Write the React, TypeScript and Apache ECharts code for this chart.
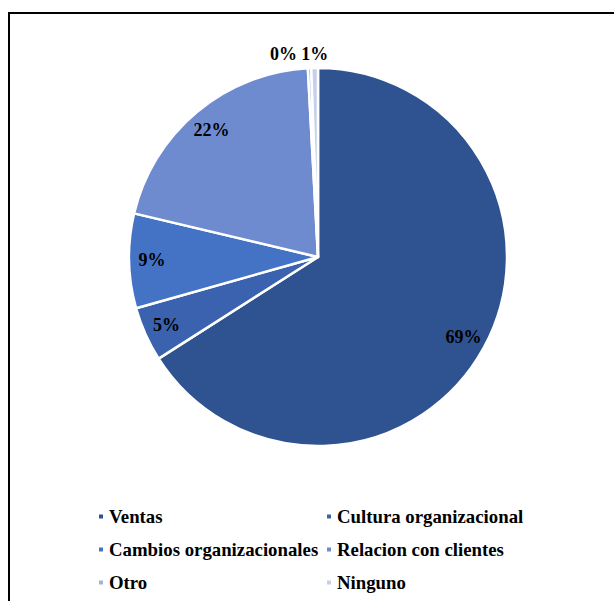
import React, { useEffect, useRef } from "react";
import * as echarts from "echarts";

const categories = [
  "Ventas",
  "Cultura organizacional",
  "Cambios organizacionales",
  "Relacion con clientes",
  "Otro",
  "Ninguno",
];
const values = [69.4, 4.9, 8.5, 21.5, 0.3, 0.6];
const colors = ["#2F5291", "#3A62AE", "#4472C4", "#6E8BCF", "#A3B2DD", "#C6D0EC"];
const leftLegend = ["Ventas", "Cambios organizacionales", "Otro"];
const rightLegend = ["Cultura organizacional", "Relacion con clientes", "Ninguno"];
const smallSlices = ["Otro", "Ninguno"];

const FONT = "'Liberation Serif', 'Times New Roman', serif";

export default function App() {
  const ref = useRef<HTMLDivElement>(null);
  useEffect(() => {
    document.body.style.margin = "0";
    if (!ref.current) return;
    const chart = echarts.init(ref.current, null, { renderer: "svg" });
    const fmt = (p: any) => Math.round(p.value) + "%";
    const mainData = categories.map((name, i) => {
      const small = smallSlices.includes(name);
      return {
        name,
        value: values[i],
        itemStyle: { color: colors[i] },
        label: { show: small },
      };
    });
    const ringData = categories.map((name, i) => ({
      name,
      value: values[i],
      label: { show: !smallSlices.includes(name) },
    }));
    const legendBase = {
      orient: "vertical" as const,
      itemWidth: 6,
      itemHeight: 6,
      itemGap: 12,
      padding: 0,
      height: 120,
      icon: "rect",
      selectedMode: false,
      textStyle: {
        fontFamily: FONT,
        fontWeight: "bold" as const,
        fontSize: 18.8,
        color: "#000",
        lineHeight: 21,
      },
    };
    chart.setOption({
      animation: false,
      backgroundColor: "#fff",
      graphic: [
        {
          type: "rect",
          shape: { x: 9, y: 13, width: 700, height: 700 },
          style: { fill: "none", stroke: "#000", lineWidth: 2 },
          silent: true,
        },
      ],
      legend: [
        { ...legendBase, data: leftLegend, left: 97, top: 506 },
        { ...legendBase, data: rightLegend, left: 325, top: 506 },
      ],
      series: [
        {
          type: "pie",
          center: [318, 257],
          radius: [0, 189],
          startAngle: 90,
          clockwise: true,
          avoidLabelOverlap: false,
          data: mainData,
          itemStyle: { borderColor: "#fff", borderWidth: 2.5 },
          label: {
            position: "outside",
            formatter: fmt,
            fontFamily: FONT,
            fontWeight: "bold",
            fontSize: 18,
            color: "#000",
          },
          labelLine: { show: false, length: 14, length2: 0 },
          labelLayout: (p: any) => {
            if (p.dataIndex === 4) return { dx: -7, align: "right" };
            if (p.dataIndex === 5) return { dx: -8, align: "left" };
            return {};
          },
          emphasis: { disabled: true },
        },
        {
          type: "pie",
          center: [318, 257],
          radius: [137, 189],
          startAngle: 90,
          clockwise: true,
          silent: true,
          legendHoverLink: false,
          avoidLabelOverlap: false,
          data: ringData,
          itemStyle: { color: "rgba(0,0,0,0)", borderWidth: 0 },
          label: {
            position: "inside",
            formatter: fmt,
            fontFamily: FONT,
            fontWeight: "bold",
            fontSize: 18,
            color: "#000",
          },
          labelLine: { show: false },
          emphasis: { disabled: true },
        },
      ],
    });
    return () => chart.dispose();
  }, []);
  return <div ref={ref} style={{ width: 614, height: 601, overflow: "hidden" }} />;
}
